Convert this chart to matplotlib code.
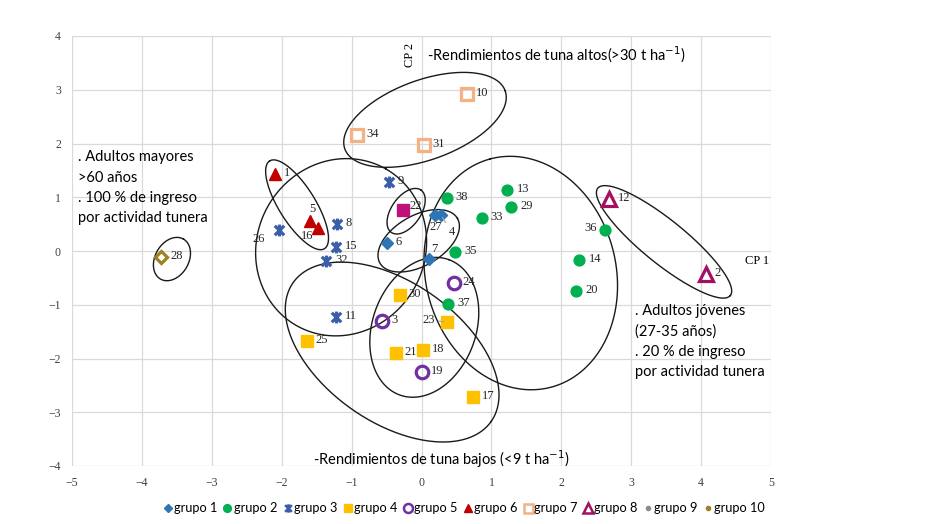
import numpy as np
import matplotlib
matplotlib.use("Agg")
import matplotlib.pyplot as plt
from matplotlib.path import Path
from matplotlib.lines import Line2D

# ---- data: (CP1, CP2, id) per group ----
g1_x = [-0.50, 0.20, 0.28, 0.11]
g1_y = [0.14, 0.67, 0.67, -0.15]
g1_id = ["6", "27", "4", "7"]

g2_x = [0.36, 0.86, 1.23, 1.28, 0.48, 2.63, 2.26, 2.21, 0.38]
g2_y = [0.98, 0.61, 1.13, 0.81, -0.02, 0.39, -0.17, -0.74, -0.99]
g2_id = ["38", "33", "13", "29", "35", "36", "14", "20", "37"]

g3_x = [-0.47, -1.21, -1.23, -1.36, -2.04, -1.22]
g3_y = [1.28, 0.50, 0.08, -0.19, 0.39, -1.23]
g3_id = ["9", "8", "15", "32", "26", "11"]

g4_x = [-0.31, 0.36, -0.37, 0.02, 0.73, -1.64]
g4_y = [-0.82, -1.33, -1.90, -1.85, -2.72, -1.67]
g4_id = ["30", "23", "21", "18", "17", "25"]

g5_x = [0.46, -0.56, 0.00]
g5_y = [-0.60, -1.30, -2.26]
g5_id = ["24", "3", "19"]

g6_x = [-2.10, -1.59, -1.48]
g6_y = [1.43, 0.56, 0.42]
g6_id = ["1", "5", "16"]

g7_x = [0.65, -0.92, 0.03]
g7_y = [2.92, 2.16, 1.97]
g7_id = ["10", "34", "31"]

g8_x = [2.68, 4.07]
g8_y = [0.96, -0.43]
g8_id = ["12", "2"]

g9_x = [-0.27]
g9_y = [0.76]
g9_id = ["22"]

g10_x = [-3.72]
g10_y = [-0.11]
g10_id = ["28"]

# ellipses drawn round the groups: centre (CP1, CP2), semi-axes (CP1 units), angle on screen
ell_cx = [0.05, -1.78, -3.57, 3.47, -0.22, -0.04, 1.42, -1.15, -0.42, 0.04]
ell_cy = [2.44, 0.86, -0.15, 0.17, 0.74, 0.19, -0.41, 0.07, -1.88, -1.42]
ell_a = [1.22, 0.74, 0.33, 1.22, 0.37, 0.64, 1.69, 1.29, 1.73, 1.03]
ell_b = [0.57, 0.26, 0.24, 0.31, 0.21, 0.36, 1.36, 1.20, 1.00, 0.74]
ell_ang = [20, 122, 60, -39, 55, 30, 105, 60, -35, 70]

# label offsets (pixels) for points that are not labelled to the right
label_off = {
    "26": (-14, -9, "right"), "27": (0, -12, "center"), "4": (8, -17, "left"),
    "7": (2, 10, "left"), "5": (2, 12, "center"), "16": (-5, -8, "right"),
    "36": (-8, 2, "right"), "23": (-12, 2, "right"), "22": (7, 4, "left"),
    "2": (8, 1, "left"),
}

W, H = 931, 524
fig = plt.figure(figsize=(W / 100, H / 100), dpi=100)
L, R, T, B = 72, 771, 36, 466
ax = fig.add_axes([L / W, 1 - B / H, (R - L) / W, (B - T) / H])
ax.set_xlim(-5, 5)
ax.set_ylim(-4, 4)
ax.set_xticks(range(-5, 6))
ax.set_yticks(range(-4, 5))
ax.grid(True, color="#d9d9d9", lw=0.9)
ax.set_axisbelow(True)
for s in ax.spines.values():
    s.set_visible(False)
ax.tick_params(length=0, labelsize=8.5, pad=8)
for lab in ax.get_xticklabels() + ax.get_yticklabels():
    lab.set_fontfamily("Liberation Serif")
    lab.set_color("#404040")

# asterisk-like marker (x with vertical bar)
star = Path([(-1, -1), (1, 1), (-1, 1), (1, -1), (0, -1.25), (0, 1.25)],
            [Path.MOVETO, Path.LINETO, Path.MOVETO, Path.LINETO, Path.MOVETO, Path.LINETO])

groups = [
    (g1_x, g1_y, g1_id, dict(marker="D", ms=6, color="#2e75b6", mfc="#2e75b6", mec="#2e75b6")),
    (g2_x, g2_y, g2_id, dict(marker="o", ms=7.8, color="#00b050", mfc="#00b050", mec="#00b050")),
    (g3_x, g3_y, g3_id, dict(marker=star, ms=8.5, color="#3a5ea8", mew=2.3)),
    (g4_x, g4_y, g4_id, dict(marker="s", ms=8, color="#ffc000", mfc="#ffc000", mec="#ffc000")),
    (g5_x, g5_y, g5_id, dict(marker="o", ms=9, color="#7030a0", mfc="none", mec="#7030a0", mew=2.3)),
    (g6_x, g6_y, g6_id, dict(marker="^", ms=8, color="#c00000", mfc="#c00000", mec="#c00000")),
    (g7_x, g7_y, g7_id, dict(marker="s", ms=9, color="#f4b183", mfc="none", mec="#f4b183", mew=2.3)),
    (g8_x, g8_y, g8_id, dict(marker="^", ms=10, color="#a50f62", mfc="none", mec="#a50f62", mew=2.3)),
    (g9_x, g9_y, g9_id, dict(marker="s", ms=9, color="#c0107a", mfc="#c0107a", mec="#c0107a")),
    (g10_x, g10_y, g10_id, dict(marker="D", ms=6.5, color="#a08020", mfc="none", mec="#a08020", mew=2.3)),
]

for gx, gy, gid, st in groups:
    ax.plot(gx, gy, ls="none", zorder=3, **st)
    for x, y, t in zip(gx, gy, gid):
        dx, dy, ha = label_off.get(t, (9, 1, "left"))
        ax.annotate(t, (x, y), xytext=(dx, dy), textcoords="offset pixels",
                    ha=ha, va="center", fontsize=9, family="Liberation Serif",
                    color="#262626", zorder=4)

# leader lines for 4 and 23
ax.annotate("", (g1_x[2], g1_y[2]), xytext=(6, -10), textcoords="offset pixels",
            arrowprops=dict(arrowstyle="-", color="#a6a6a6", lw=0.8))
ax.annotate("", (g4_x[1], g4_y[1]), xytext=(-11, 2), textcoords="offset pixels",
            arrowprops=dict(arrowstyle="-", color="#a6a6a6", lw=0.8))

# ellipses, drawn in a space with equal pixel scale
r = ((B - T) / 8) / ((R - L) / 10)
t = np.linspace(0, 2 * np.pi, 300)
for cx, cy, a, b, ang in zip(ell_cx, ell_cy, ell_a, ell_b, ell_ang):
    th = np.deg2rad(ang)
    ex = cx + a * np.cos(t) * np.cos(th) - b * np.sin(t) * np.sin(th)
    ey = cy + (a * np.cos(t) * np.sin(th) + b * np.sin(t) * np.cos(th)) / r
    ax.plot(ex, ey, color="#1a1a1a", lw=1.0, zorder=2)

# annotations
sans = ["Lato", "DejaVu Sans"]
ax.text(-0.17, 3.65, "CP 2", rotation=90, ha="center", va="center", fontsize=9,
        family="Liberation Serif")
ax.text(0.08, 3.65, "-Rendimientos de tuna altos(>30 t ha$^{-1}$)", ha="left", va="center",
        fontsize=10.5, family=sans)
ax.text(4.8, -0.19, "CP 1", ha="center", va="center", fontsize=9, family="Liberation Serif")
ax.text(-1.55, -3.87, "-Rendimientos de tuna bajos (<9 t ha$^{-1}$)", ha="left", va="center",
        fontsize=10.5, family=sans)
ax.text(-4.92, 1.87, ". Adultos mayores\n>60 años\n. 100 % de ingreso\npor actividad tunera",
        ha="left", va="top", fontsize=10.5, family=sans, linespacing=1.55)
ax.text(3.06, -0.99, ". Adultos jóvenes\n(27-35 años)\n. 20 % de ingreso\npor actividad tunera",
        ha="left", va="top", fontsize=10.5, family=sans, linespacing=1.55)

# legend
handles = []
names = []
for i, (gx, gy, gid, st) in enumerate(groups):
    st = dict(st)
    if i == 8:
        st = dict(marker="o", ms=3, color="#8c8c8c", mfc="#8c8c8c", mec="#8c8c8c")
    elif i == 9:
        st = dict(marker="o", ms=3, color="#a08020", mfc="#a08020", mec="#a08020")
    else:
        st["ms"] = st.get("ms", 7) * 0.72
        if "mew" in st:
            st["mew"] = 1.8
    handles.append(Line2D([], [], ls="none", **st))
    names.append(f"grupo {i + 1}")
fig.legend(handles, names, loc="center", bbox_to_anchor=(463 / W, 1 - 508 / H), ncol=10,
           frameon=False, handletextpad=0.0, columnspacing=0.3, handlelength=1.0,
           prop={"family": sans, "size": 9.2})

fig.savefig("out.png", dpi=100)
